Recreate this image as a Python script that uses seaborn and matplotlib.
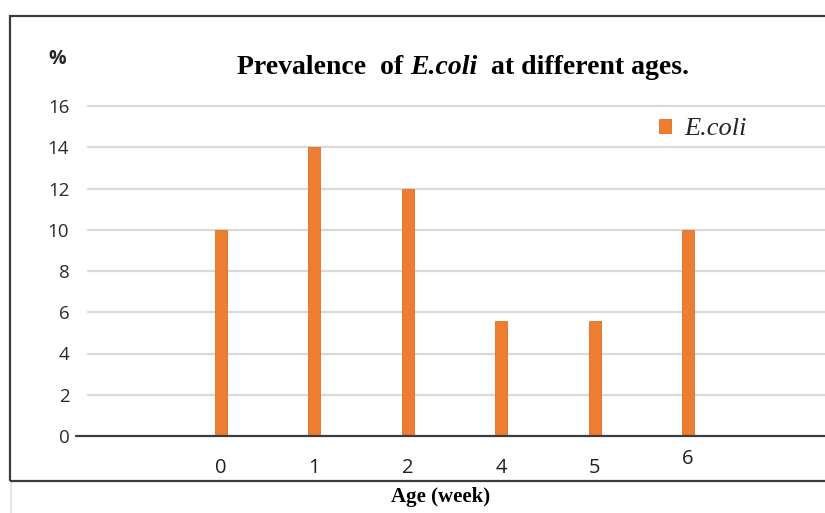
import matplotlib
matplotlib.use("Agg")
import matplotlib.pyplot as plt
from matplotlib.patches import Rectangle
from matplotlib.lines import Line2D
from matplotlib.transforms import ScaledTranslation
import seaborn as sns
import pandas as pd

# Data
ages = ["0", "1", "2", "4", "5", "6"]
prevalence = [10, 14, 12, 5.6, 5.6, 10]
y_ticks = [0, 2, 4, 6, 8, 10, 12, 14, 16]
series_name = "E.coli"

df = pd.DataFrame({"age": ages, "prev": prevalence})

sns.set_theme(style="white")
plt.rcParams["font.family"] = ["Liberation Serif", "DejaVu Serif"]

W, H = 825, 513
fig = plt.figure(figsize=(W / 100, H / 100), dpi=100)
fig.patch.set_facecolor("white")


def fx(px):
    return px / W


def fy(py):
    return 1 - py / H


# plot area (pixel box)
left, right, top, bottom = 88, 825, 106, 436
ax = fig.add_axes([fx(left), fy(bottom), fx(right - left), (bottom - top) / H])
ax.set_facecolor("none")

orange = "#ED7D31"
sns.barplot(data=df, x="age", y="prev", order=ages, color=orange,
            width=0.13, saturation=1, label=series_name, ax=ax, zorder=3)
for p in ax.patches:
    p.set_edgecolor("#E0701F")
    p.set_linewidth(0.6)

ax.set_ylim(0, 16)
ax.set_xlim(-1.424, 6.467)
ax.set_yticks(y_ticks)
ax.set_yticklabels([str(v) for v in y_ticks])

# horizontal gridlines
for v in y_ticks[1:]:
    ax.axhline(v, color="#D9D9D9", lw=1.6, zorder=1, clip_on=False)
# baseline extends a bit left of the gridlines
ax.add_line(Line2D([-0.016, 1.0], [0, 0], transform=ax.get_yaxis_transform(),
                   color="#3C3C3C", lw=1.6, clip_on=False, zorder=4))

for s in ax.spines.values():
    s.set_visible(False)
ax.tick_params(axis="both", length=0)
ax.tick_params(axis="y", pad=13.5)
ax.tick_params(axis="x", pad=15.5)
ax.set_xlabel("")
ax.set_ylabel("")

for lab in ax.get_yticklabels():
    lab.set_fontfamily(["Open Sans", "DejaVu Sans"])
    lab.set_fontsize(13.5)
    lab.set_color("#2A2A2A")
for lab in ax.get_xticklabels():
    lab.set_fontfamily(["Open Sans", "DejaVu Sans"])
    lab.set_fontsize(14.5)
    lab.set_color("#202020")
# the last age label sits slightly higher
last = ax.get_xticklabels()[-1]
last.set_transform(last.get_transform() + ScaledTranslation(0, 6 / 72, fig.dpi_scale_trans))

# "%" unit marker
fig.text(fx(57), fy(59), "%", ha="center", va="center", fontsize=14,
         fontweight="bold", family=["Open Sans", "DejaVu Sans"], color="#262626")

# title in three runs: bold / bold italic / bold
renderer = fig.canvas.get_renderer()
pieces = [("Prevalence  of ", "normal"), ("E.coli", "italic"), ("  at different ages.", "normal")]
tsize = 20
texts = []
for s, style in pieces:
    t = fig.text(0, fy(74), s, fontsize=tsize, fontweight="bold", fontstyle=style,
                 ha="left", va="baseline", color="black")
    texts.append(t)
widths = [t.get_window_extent(renderer).width for t in texts]
total = sum(widths)
x0 = 463 - total / 2
for t, w in zip(texts, widths):
    t.set_x(fx(x0))
    x0 += w

# axis title below the frame
fig.text(fx(441), fy(497), "Age (week)", ha="center", va="center", fontsize=15,
         fontweight="bold", color="black")

# legend
leg = ax.legend(loc="center left", bbox_to_anchor=(fx(659), fy(129)),
                bbox_transform=fig.transFigure, frameon=False,
                handlelength=0.45, handleheight=0.45, handletextpad=0.5,
                borderpad=0, borderaxespad=0,
                prop={"family": "Liberation Serif", "style": "italic", "size": 19})

# outer frame of the chart
fig.add_artist(Rectangle((fx(10), fy(481)), fx(840 - 10), (481 - 16) / H,
                         transform=fig.transFigure, fill=False,
                         edgecolor="#3C3C3C", lw=1.6, zorder=10))
fig.add_artist(Line2D([fx(11), fx(11)], [fy(483), fy(513)], transform=fig.transFigure,
                      color="#E4E4E4", lw=1.5))

fig.savefig("out.png", dpi=100, facecolor="white")
